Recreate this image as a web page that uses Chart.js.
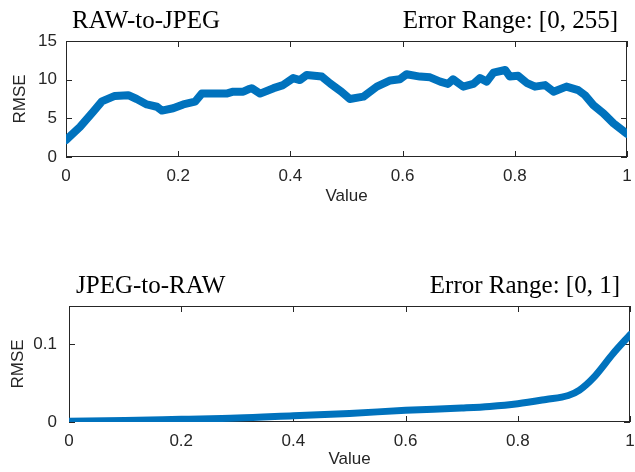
<!DOCTYPE html>
<html lang="en">
<head>
    <meta charset="UTF-8">
    <title>RAW-to-JPEG / JPEG-to-RAW RMSE</title>
    <script src="https://cdn.jsdelivr.net/npm/chart.js"></script>
    <style>
        body {
            margin: 0;
            background: #fff;
        }
        .wrap {
            position: relative;
            width: 635px;
            height: 472px;
        }
        canvas {
            position: absolute;
            left: 0;
        }
        #topChart { top: 0; }
        #bottomChart { top: 236px; }
    </style>
</head>
<body>
    <div class="wrap">
        <canvas id="topChart" width="635" height="210"></canvas>
        <canvas id="bottomChart" width="635" height="236"></canvas>
    </div>

    <script>
        // RAW-to-JPEG curve
        const topX = [0, 0.025, 0.049, 0.064, 0.087, 0.111, 0.126, 0.144, 0.162, 0.171, 0.191, 0.209, 0.23, 0.242,
            0.263, 0.286, 0.298, 0.316, 0.325, 0.331, 0.346, 0.37, 0.387, 0.405, 0.417, 0.429, 0.456, 0.471, 0.491,
            0.506, 0.53, 0.554, 0.578, 0.595, 0.607, 0.631, 0.649, 0.667, 0.681, 0.69, 0.708, 0.726, 0.738, 0.75,
            0.762, 0.783, 0.791, 0.806, 0.821, 0.836, 0.854, 0.869, 0.892, 0.913, 0.925, 0.94, 0.958, 0.976, 1.0];
        const topY = [2.2, 3.9, 5.9, 7.2, 7.9, 8.0, 7.5, 6.8, 6.5, 6.0, 6.3, 6.8, 7.15, 8.2,
            8.2, 8.2, 8.45, 8.45, 8.75, 8.9, 8.2, 8.9, 9.3, 10.2, 9.95, 10.6, 10.4, 9.5, 8.45,
            7.5, 7.8, 9.1, 9.9, 10.05, 10.7, 10.4, 10.3, 9.75, 9.45, 10.05, 9.1, 9.45, 10.2, 9.75,
            10.9, 11.25, 10.4, 10.5, 9.6, 9.1, 9.3, 8.45, 9.1, 8.65, 8.0, 6.7, 5.65, 4.35, 3.0];

        // JPEG-to-RAW curve
        const bottomX = [0, 0.1, 0.2, 0.3, 0.4, 0.5, 0.6, 0.7, 0.75, 0.8, 0.85, 0.89, 0.91, 0.935, 0.97, 1.0];
        const bottomY = [0.001, 0.002, 0.0035, 0.005, 0.008, 0.011, 0.015, 0.018, 0.02, 0.0235, 0.029, 0.034,
            0.041, 0.057, 0.088, 0.112];

        const xTicks = [0, 0.2, 0.4, 0.6, 0.8, 1];
        const topYTicks = [0, 5, 10, 15];
        const bottomYTicks = [0, 0.1];

        const lineColor = '#0072BD';
        const axisColor = '#262626';
        const sansFont = { family: '"Liberation Sans", Arial, sans-serif', size: 17 };

        // MATLAB-like box with inward ticks
        const boxPlugin = {
            id: 'box',
            beforeDatasetsDraw(chart) {
                const { ctx, chartArea: a, scales } = chart;
                const len = 6;
                ctx.save();
                ctx.strokeStyle = axisColor;
                ctx.lineWidth = 1;
                ctx.strokeRect(a.left + 0.5, a.top + 0.5, a.right - a.left - 1, a.bottom - a.top - 1);
                ctx.beginPath();
                scales.x.ticks.forEach(t => {
                    const px = Math.round(scales.x.getPixelForValue(t.value)) + 0.5;
                    ctx.moveTo(px, a.bottom); ctx.lineTo(px, a.bottom - len);
                    ctx.moveTo(px, a.top); ctx.lineTo(px, a.top + len);
                });
                scales.y.ticks.forEach(t => {
                    const py = Math.round(scales.y.getPixelForValue(t.value)) + 0.5;
                    ctx.moveTo(a.left, py); ctx.lineTo(a.left + len, py);
                    ctx.moveTo(a.right, py); ctx.lineTo(a.right - len, py);
                });
                ctx.stroke();
                ctx.restore();
            }
        };

        // left and right titles above the plot
        const sideTitles = {
            id: 'sideTitles',
            afterDraw(chart, args, opts) {
                const { ctx, chartArea: a } = chart;
                ctx.save();
                ctx.font = '25px "Liberation Serif", "Times New Roman", serif';
                ctx.fillStyle = '#000';
                ctx.textBaseline = 'alphabetic';
                ctx.textAlign = 'left';
                ctx.fillText(opts.left, a.left + opts.dx, opts.y);
                ctx.textAlign = 'right';
                ctx.fillText(opts.right, a.right - opts.rx, opts.y);
                ctx.restore();
            }
        };

        function makeChart(id, xs, ys, cfg) {
            return new Chart(document.getElementById(id), {
                type: 'line',
                data: {
                    datasets: [{
                        data: xs.map((x, i) => ({ x: x, y: ys[i] })),
                        borderColor: lineColor,
                        borderWidth: cfg.lineWidth,
                        pointRadius: 0,
                        borderCapStyle: 'round',
                        borderJoinStyle: 'round',
                        cubicInterpolationMode: cfg.smooth ? 'monotone' : 'default',
                        tension: 0
                    }]
                },
                options: {
                    responsive: false,
                    animation: false,
                    layout: { padding: cfg.padding },
                    plugins: {
                        legend: { display: false },
                        tooltip: { enabled: false },
                        sideTitles: cfg.titles
                    },
                    scales: {
                        x: {
                            type: 'linear',
                            min: 0,
                            max: 1,
                            grid: { display: false, drawTicks: false },
                            border: { display: false },
                            afterBuildTicks: s => { s.ticks = xTicks.map(v => ({ value: v })); },
                            afterFit: s => {
                                s.height = cfg.xHeight;
                                s.paddingLeft = 0;
                                s.paddingRight = 0;
                            },
                            ticks: { padding: 9, font: sansFont, color: axisColor, maxRotation: 0, callback: v => String(v) },
                            title: { display: true, text: 'Value', font: sansFont, color: axisColor, padding: { top: 0, bottom: cfg.xTitlePad } }
                        },
                        y: {
                            min: 0,
                            max: cfg.yMax,
                            grid: { display: false, drawTicks: false },
                            border: { display: false },
                            afterBuildTicks: s => { s.ticks = cfg.yTicks.map(v => ({ value: v })); },
                            afterFit: s => {
                                s.width = cfg.yWidth;
                                s.paddingTop = 0;
                                s.paddingBottom = 0;
                            },
                            ticks: { padding: cfg.yTickPad, font: sansFont, color: axisColor, callback: v => String(v) },
                            title: { display: true, text: 'RMSE', font: sansFont, color: axisColor, padding: { top: cfg.yTitlePad, bottom: 0 } }
                        }
                    }
                },
                plugins: [boxPlugin, sideTitles]
            });
        }

        makeChart('topChart', topX, topY, {
            lineWidth: 8,
            smooth: false,
            padding: { left: 0, right: 8, top: 41, bottom: 0 },
            xHeight: 53,
            xTitlePad: 3,
            yMax: 15,
            yTicks: topYTicks,
            yWidth: 66,
            yTickPad: 9,
            yTitlePad: 10,
            titles: { left: 'RAW-to-JPEG', right: 'Error Range: [0, 255]', y: 28, dx: 6, rx: 9 }
        });

        makeChart('bottomChart', bottomX, bottomY, {
            lineWidth: 7,
            smooth: true,
            padding: { left: 0, right: 5, top: 70, bottom: 0 },
            xHeight: 50,
            xTitlePad: 2,
            yMax: 0.149,
            yTicks: bottomYTicks,
            yWidth: 69,
            yTickPad: 12,
            yTitlePad: 8,
            titles: { left: 'JPEG-to-RAW', right: 'Error Range: [0, 1]', y: 57, dx: 7, rx: 10 }
        });
    </script>
</body>
</html>
